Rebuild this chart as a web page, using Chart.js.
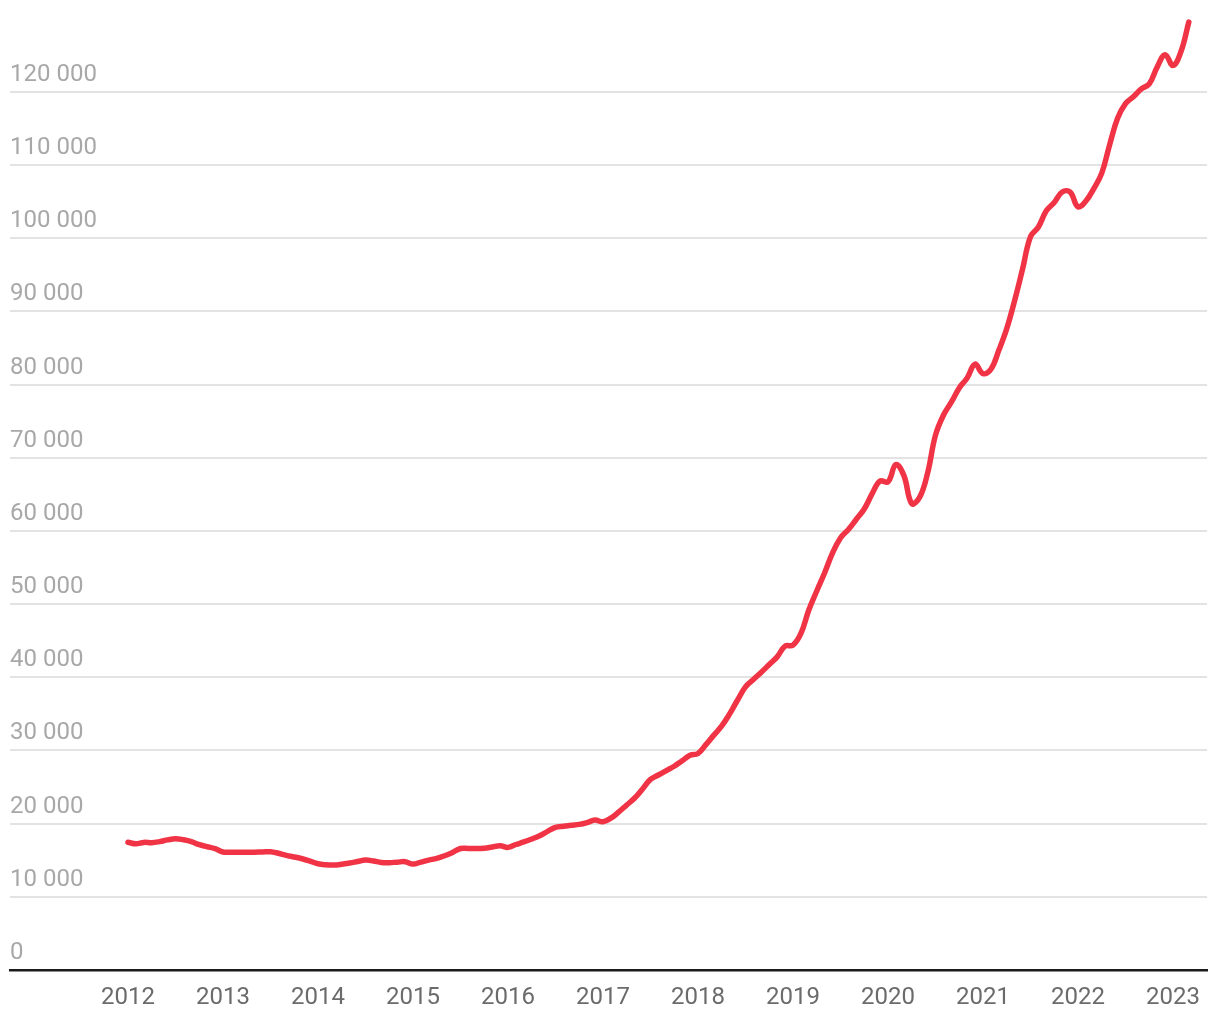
<!DOCTYPE html>
<html>
<head>
<meta charset="utf-8">
<script src="https://cdn.jsdelivr.net/npm/chart.js@4.4.1/dist/chart.umd.min.js"></script>
<style>
  html, body { margin: 0; padding: 0; background: #fff; }
  #wrap { width: 1220px; height: 1020px; }
</style>
</head>
<body>
<div id="wrap"><canvas id="chart" width="1220" height="1020"></canvas></div>
<script>
// monthly readings, Jan 2012 .. Mar 2023
const startYear = 2012;
const prices = [
  17450, 17250, 17440, 17400, 17550, 17780, 17940, 17800, 17550, 17120, 16850, 16580,
  16120, 16100, 16090, 16080, 16100, 16130, 16160, 15950, 15670, 15450, 15200, 14880,
  14520, 14380, 14340, 14450, 14620, 14820, 15020, 14900, 14700, 14670, 14740, 14800,
  14480, 14750, 15020, 15250, 15620, 16070, 16600, 16620, 16620, 16630, 16800, 16980,
  16760, 17150, 17500, 17900, 18350, 18950, 19490, 19650, 19780, 19900, 20150, 20490,
  20260, 20750, 21600, 22550, 23500, 24750, 26050, 26650, 27250, 27850, 28600, 29350,
  29600, 30800, 32100, 33350, 35000, 36900, 38700, 39700, 40700, 41750, 42800, 44260,
  44400, 46000, 49200, 51800, 54300, 57000, 59050, 60200, 61600, 63000, 65100, 66820,
  66700, 69080, 67600, 63750, 64600, 67900, 73100, 75820, 77600, 79550, 80900, 82800,
  81500, 82100, 84700, 87660, 91500, 95800, 100200, 101550, 103750, 104900, 106330, 106330,
  104300, 105100, 106800, 108900, 112800, 116400, 118400, 119350, 120420, 121100, 123400, 125100,
  123630, 125500, 129550
];
const yearTicks = [2012, 2013, 2014, 2015, 2016, 2017, 2018, 2019, 2020, 2021, 2022, 2023];
const valueTicks = [0, 10000, 20000, 30000, 40000, 50000, 60000, 70000, 80000, 90000, 100000, 110000, 120000];

const points = prices.map((v, i) => ({ x: startYear + i / 12, y: v }));

function fmt(v) {
  return String(v).replace(/\B(?=(\d{3})+(?!\d))/g, ' ');
}

new Chart(document.getElementById('chart').getContext('2d'), {
  type: 'line',
  data: {
    datasets: [{
      data: points,
      borderColor: '#f03446',
      borderWidth: 5.5,
      borderCapStyle: 'round',
      borderJoinStyle: 'round',
      pointRadius: 0,
      tension: 0.4,
      fill: false
    }]
  },
  options: {
    responsive: false,
    animation: false,
    layout: { padding: { left: 10, right: 13, top: 4, bottom: 0 } },
    plugins: { legend: { display: false }, tooltip: { enabled: false } },
    scales: {
      x: {
        type: 'linear',
        min: 2010.758,
        max: 2023.358,
        afterBuildTicks: (scale) => {
          scale.ticks = yearTicks.map(v => ({ value: v }));
        },
        afterFit: (scale) => {
          scale.height = 50;
        },
        grid: { display: false, drawTicks: false },
        border: { display: true, color: '#1a1a1a', width: 2.5 },
        ticks: {
          padding: 15,
          color: '#6b6b6b',
          font: { family: 'Roboto', size: 24, lineHeight: 1.05 },
          callback: (v) => String(v),
          maxRotation: 0,
          autoSkip: false
        }
      },
      y: {
        min: 0,
        max: 130600,
        afterBuildTicks: (scale) => {
          scale.ticks = valueTicks.map(v => ({ value: v }));
        },
        grid: { color: '#e3e3e3', lineWidth: 2, drawTicks: false },
        border: { display: false },
        ticks: {
          mirror: true,
          padding: 0,
          labelOffset: -17,
          color: '#a8a8a8',
          font: { family: 'Roboto', size: 24 },
          callback: (v) => fmt(v)
        }
      }
    }
  }
});
</script>
</body>
</html>
